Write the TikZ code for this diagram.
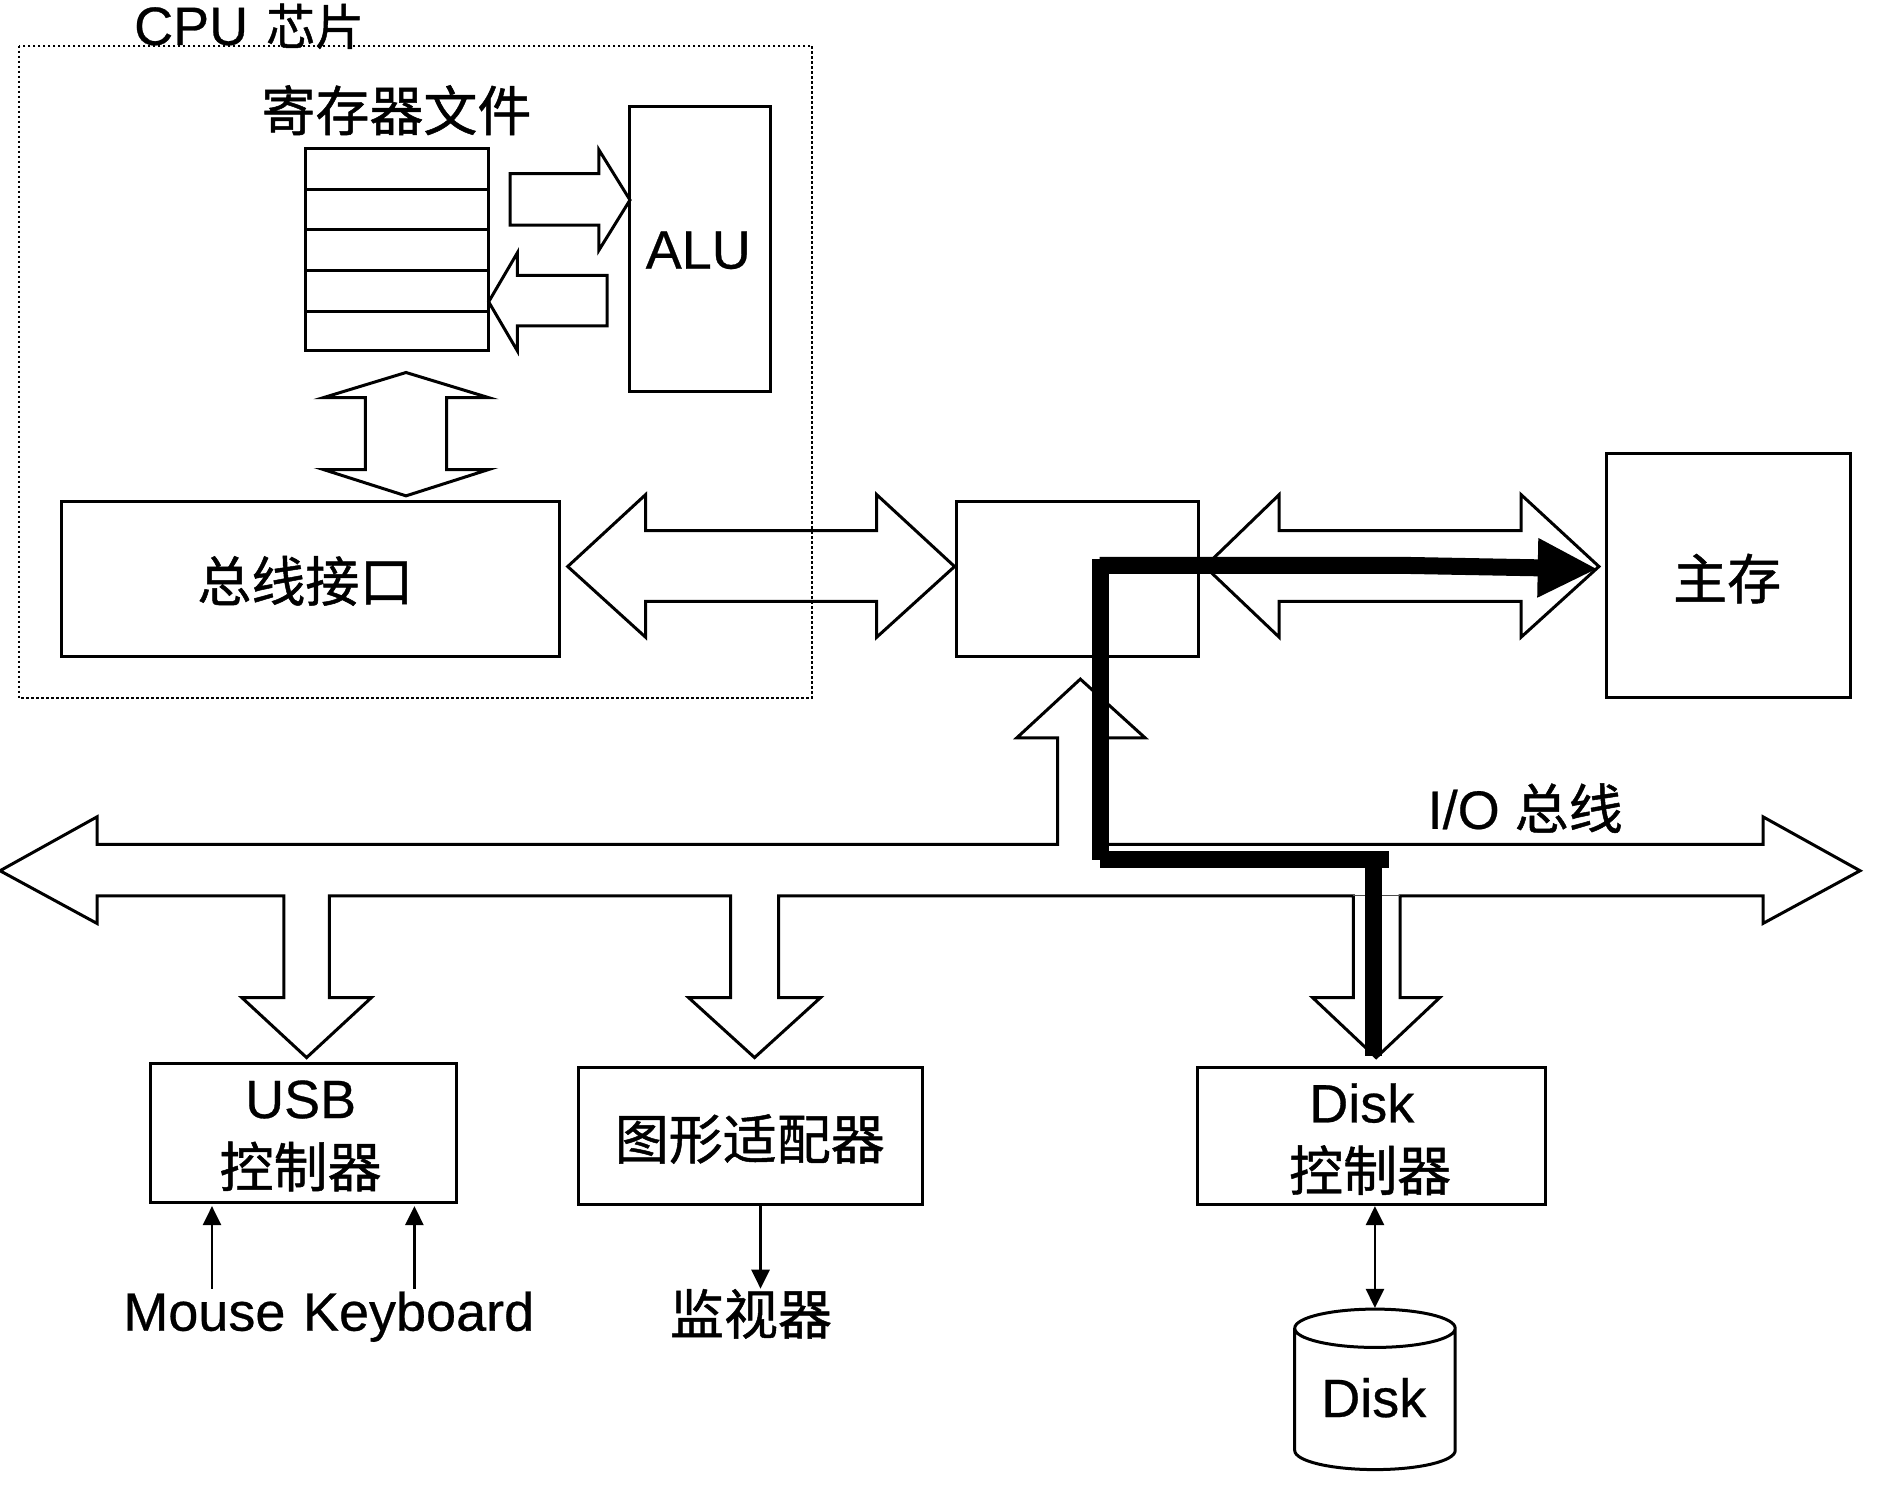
\documentclass[tikz,border=0pt]{standalone}
\usepackage{fontspec}
\setmainfont[FakeBold=0.5]{Liberation Sans}
\newfontfamily\cjk[FakeBold=0.9]{Noto Sans CJK SC}
\usetikzlibrary{arrows.meta}
\def\uu{1.1977}
\tikzset{
  x=1.1977pt,y=-1.1977pt,
  outline/.style={draw=black,line width=3pt,line join=miter,fill=white},
  boxn/.style={draw=black,line width=3pt,fill=white,inner sep=0pt,outer sep=0pt,anchor=north west,align=center},
  lbl/.style={inner sep=0pt,outer sep=0pt,text=black,font=\fontsize{54}{64}\selectfont},
  thin arrow/.style={draw=black,line width=2.6pt,-{Triangle[length=19pt,width=18pt]}},
  both arrow/.style={draw=black,line width=2.6pt,{Triangle[length=19pt,width=18pt]}-{Triangle[length=19pt,width=18pt]}},
  heavy/.style={draw=black,line width=17pt,line cap=butt,line join=miter},
}
\newcommand{\bx}[6]{\node[boxn,minimum width={(#4-#2)*\uu pt},minimum height={(#5-#3)*\uu pt}] (#1) at (#2,#3) {#6};}
\begin{document}
\begin{tikzpicture}
\useasboundingbox (0,0) rectangle (1568,1240.8);
\fill[white] (0,0) rectangle (1568,1240.8);
% CPU chip outline
\draw[black,line width=2pt,dash pattern=on 2.5pt off 2.5pt] (16,38) rectangle (678,583);
\node[lbl,anchor=base west] (cputxt) at (112,37.5) {CPU {\cjk\fontsize{49}{60}\selectfont\hspace{3pt}芯片}};
% register file
\node[lbl] (regtxt) at (331,92) {\cjk 寄存器文件};
\bx{regs}{255}{124}{408}{293}{}
\draw[line width=3pt] (255,158.5) -- (408,158.5) (255,192) -- (408,192) (255,226) -- (408,226) (255,260) -- (408,260);
\bx{alu}{526}{89}{643}{327}{}
\node[lbl] (alutxt) at (583,209) {ALU};
% block arrows inside CPU
\draw[outline] (426,145) -- (500,145) -- (500,125) -- (526,167) -- (500,209) -- (500,188) -- (426,188) -- cycle;
\draw[outline] (507,230) -- (432,230) -- (432,211) -- (408,252) -- (432,293) -- (432,272) -- (507,272) -- cycle;
\draw[outline] (339,311) -- (408,332) -- (373,332) -- (373,392) -- (408,392) -- (339,414) -- (270,392) -- (305,392) -- (305,332) -- (270,332) -- cycle;
\bx{busif}{51}{419}{467}{548}{}
\node[lbl] (busiftxt) at (255,485) {\cjk 总线接口};
% system bus arrows (transparent so the CPU outline shows through)
\draw[draw=black,line width=3pt,line join=miter] (474,473) -- (539,413) -- (539,443) -- (732,443) -- (732,413) -- (797,473) -- (732,532) -- (732,502) -- (539,502) -- (539,532) -- cycle;
\bx{bridge}{799}{419}{1001}{548}{}
\draw[draw=black,line width=3pt,line join=miter] (1006,473) -- (1068,413) -- (1068,443) -- (1270,443) -- (1270,413) -- (1335,473) -- (1270,532) -- (1270,502) -- (1068,502) -- (1068,532) -- cycle;
\bx{mem}{1341}{379}{1545}{582}{}
\node[lbl] (memtxt) at (1442,483) {\cjk 主存};
% I/O bus
\draw[outline] (0,727) -- (81,682) -- (81,705) -- (883,705) -- (883,616) -- (849,616) -- (902,567) -- (956,616) -- (921,616) -- (921,705) -- (1472,705) -- (1472,682) -- (1553,727) -- (1472,771) -- (1472,748) -- (1169,748) -- (1169,833) -- (1202,833) -- (1149,883) -- (1096,833) -- (1130,833) -- (1130,748) -- (650,748) -- (650,833) -- (685,833) -- (630,883) -- (575,833) -- (610,833) -- (610,748) -- (275,748) -- (275,833) -- (310,833) -- (256,883) -- (202,833) -- (237,833) -- (237,748) -- (81,748) -- (81,771) -- cycle;
\draw[black!70,line width=1pt] (1130,748) -- (1169,748);
\node[lbl,anchor=base west] (iotxt) at (1192,692) {I/O {\cjk 总线}};
% controllers
\bx{usb}{126}{888}{381}{1004}{}
\node[lbl] (usbtxt) at (251,918) {USB};
\node[lbl] (usbctl) at (251,974) {\cjk 控制器};
\bx{gfx}{483}{891}{770}{1006}{}
\node[lbl] (gfxtxt) at (626,951) {\cjk 图形适配器};
\bx{dctl}{1000}{891}{1290}{1006}{}
\node[lbl] (dtxt) at (1137,921) {Disk};
\node[lbl] (dctltxt) at (1144,977) {\cjk 控制器};
% peripherals
\node[lbl,anchor=base west] (mouse) at (103,1111) {Mouse};
\node[lbl,anchor=base east] (kbd) at (446,1111) {Keyboard};
\node[lbl] (mon) at (627,1097) {\cjk 监视器};
\coordinate (mt) at (177,1076); \coordinate (mh) at (177,1007);
\coordinate (kt) at (346,1076); \coordinate (kh) at (346,1007);
\coordinate (gt) at (635,1006); \coordinate (gh) at (635,1076);
\coordinate (dt) at (1148,1007); \coordinate (dh) at (1148,1092);
\draw[thin arrow] (mt) -- (mh);
\draw[thin arrow] (kt) -- (kh);
\draw[thin arrow] (gt) -- (gh);
\draw[both arrow] (dt) -- (dh);
% disk
\draw[draw=black,line width=3pt,fill=white] (1081,1109) -- (1081,1211) arc[start angle=180,end angle=360,x radius=67,y radius=-16] -- (1215,1109) arc[start angle=0,end angle=360,x radius=67,y radius=-16];
\node[lbl] (disk) at (1147,1167) {Disk};
% read path
\coordinate (p1) at (918,472); \coordinate (p2) at (1170,472); \coordinate (p3) at (1334,475);
\coordinate (q1) at (918.5,467); \coordinate (q2) at (918.5,718);
\coordinate (r1) at (918,718); \coordinate (r2) at (1160,718);
\coordinate (s1) at (1147,718); \coordinate (s2) at (1147,882);
\draw[heavy,-{Triangle[length=60pt,width=55pt]}] (p1) -- (p2) -- (p3);
\draw[heavy] (q1) -- (q2);
\draw[heavy] (r1) -- (r2);
\draw[heavy] (s1) -- (s2);
\end{tikzpicture}
\end{document}
